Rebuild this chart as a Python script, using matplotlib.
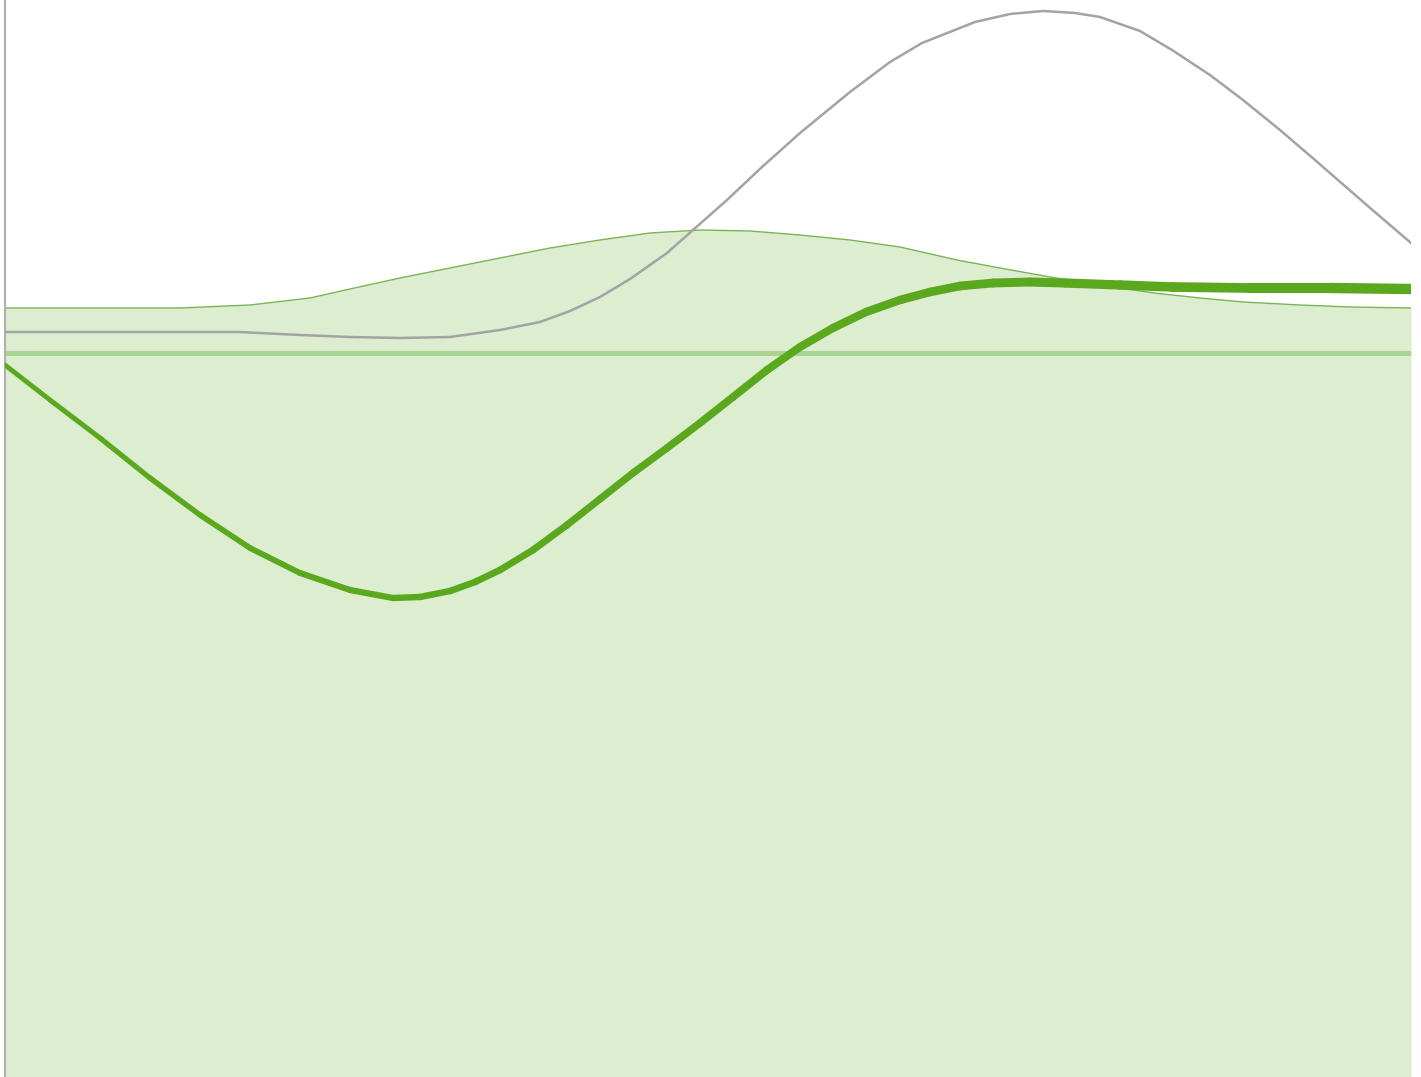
import numpy as np
import matplotlib
matplotlib.use("Agg")
import matplotlib.pyplot as plt
from matplotlib.collections import LineCollection

H = 1077
# Values (x position, distance from the top edge)
gray_x = [5, 100, 200, 240, 300, 350, 400, 450, 500, 540, 570, 600, 630, 667, 693, 727, 762, 800,
          850, 890, 922, 975, 1010, 1043, 1075, 1100, 1140, 1172, 1210, 1243, 1280, 1315, 1369, 1411]
gray_top = [332, 332, 332, 332, 335, 337, 338, 337, 330, 322, 311, 297, 279, 253, 230, 200, 167, 133,
            92, 62, 43, 22, 14, 11, 13, 17, 31, 50, 75, 100, 130, 160, 207, 243]

area_x = [5, 100, 180, 250, 310, 350, 400, 450, 500, 550, 600, 650, 700, 750, 800, 850, 900,
          957, 1000, 1050, 1100, 1154, 1200, 1243, 1300, 1350, 1411]
area_top = [308, 308, 308, 305, 298, 289, 278, 268, 258, 248, 240, 233, 230, 231, 235, 240, 247,
            260, 268, 277, 285, 293, 298, 302, 305, 307, 308]

main_x = [5, 50, 100, 150, 200, 250, 300, 350, 393, 420, 450, 475, 500, 533, 567, 600, 633, 667,
          700, 733, 767, 800, 833, 866, 900, 930, 960, 993, 1030, 1065, 1120, 1172, 1250, 1330, 1411]
main_top = [365, 400, 438, 478, 515, 548, 573, 590, 598, 597, 591, 582, 570, 550, 525, 499, 473, 448,
            423, 397, 370, 347, 328, 312, 300, 292, 286, 283, 282, 283, 285, 287, 288, 288, 289]

ref_top = 353

gray_y = [H - v for v in gray_top]
area_y = [H - v for v in area_top]
main_y = [H - v for v in main_top]
ref_level = H - ref_top

fig = plt.figure(figsize=(14.21, 10.77), dpi=100)
ax = fig.add_axes([5 / 1421, 0, 1406 / 1421, 1])
ax.set_xlim(5, 1411)
ax.set_ylim(0, H)

ax.fill_between(area_x, 0, area_y, color="#ddedcf", lw=0, zorder=1)
ax.plot(area_x, area_y, color="#78b450", lw=1.0, zorder=2, solid_joinstyle="round")
ax.axhline(ref_level, color="#a9d48f", lw=3.6, zorder=2)
ax.plot(gray_x, gray_y, color="#a3a3a3", lw=1.8, zorder=3, solid_joinstyle="round")

pts = np.column_stack([main_x, main_y])
segs = np.stack([pts[:-1], pts[1:]], axis=1)
mid = (pts[:-1, 0] + pts[1:, 0]) / 2
widths = 3.4 + (mid - 5) / (1411 - 5) * 4.2
lc = LineCollection(segs, colors="#5aa81e", linewidths=widths, capstyle="round",
                    joinstyle="round", zorder=4)
ax.add_collection(lc)

for s in ["top", "right", "bottom"]:
    ax.spines[s].set_visible(False)
ax.spines["left"].set_color("#b0b0b0")
ax.spines["left"].set_linewidth(1.5)
ax.set_xticks([])
ax.set_yticks([])

fig.savefig("out.png", dpi=100, facecolor="white")
